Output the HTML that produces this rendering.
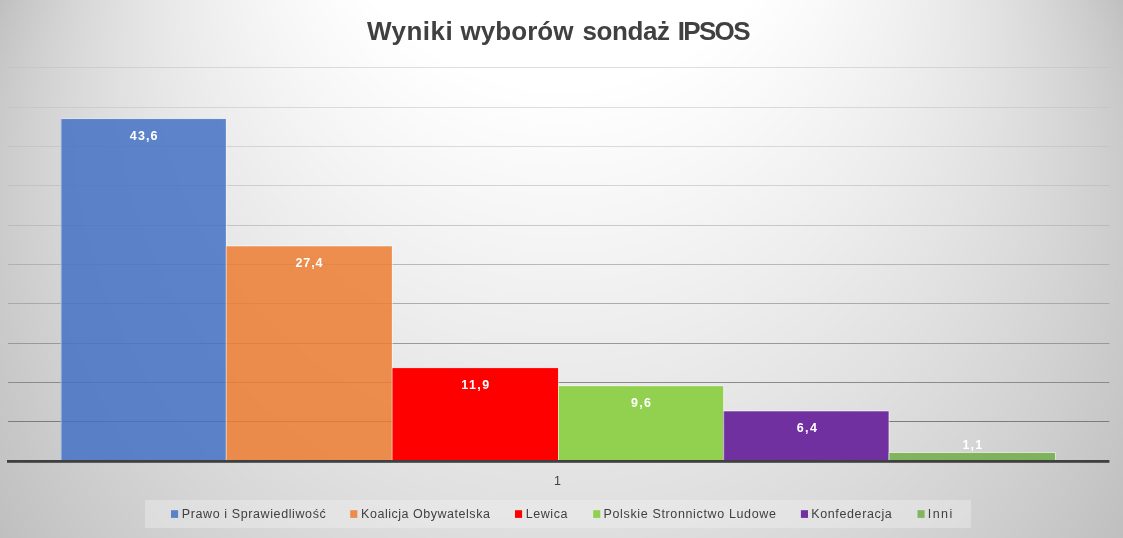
<!DOCTYPE html>
<html lang="pl">
<head>
<meta charset="utf-8">
<title>Wyniki wyborów sondaż IPSOS</title>
<style>
html,body{margin:0;padding:0;}
body{width:1123px;height:538px;overflow:hidden;position:relative;background:#bfbfbf;font-family:"Liberation Sans",sans-serif;}
div,#title span{position:absolute;white-space:nowrap;}
.tt{font-weight:bold;font-size:26px;line-height:32px;color:#404040;}
.lb{font-weight:bold;font-size:12.5px;line-height:16px;color:#fff;}
.lg{font-size:12.5px;line-height:16px;color:#404040;}
</style>
</head>
<body>
<svg width="1123" height="538" viewBox="0 0 1123 538" style="position:absolute;left:0;top:0">
<rect width="1123" height="538" fill="#bfbfbf"/>
<circle cx="561.5" cy="266.3" r="620.2" fill="#c0c0c0"/>
<circle cx="561.5" cy="260.8" r="615.3" fill="#c1c1c1"/>
<circle cx="561.5" cy="255.3" r="610.4" fill="#c2c2c2"/>
<circle cx="561.5" cy="249.8" r="605.5" fill="#c3c3c3"/>
<circle cx="561.5" cy="244.2" r="600.5" fill="#c4c4c4"/>
<circle cx="561.5" cy="238.6" r="595.5" fill="#c5c5c5"/>
<circle cx="561.5" cy="232.9" r="590.5" fill="#c6c6c6"/>
<circle cx="561.5" cy="227.2" r="585.4" fill="#c7c7c7"/>
<circle cx="561.5" cy="221.5" r="580.3" fill="#c8c8c8"/>
<circle cx="561.5" cy="215.7" r="575.2" fill="#c9c9c9"/>
<circle cx="561.5" cy="209.9" r="570.0" fill="#cacaca"/>
<circle cx="561.5" cy="204.1" r="564.8" fill="#cbcbcb"/>
<circle cx="561.5" cy="198.2" r="559.6" fill="#cccccc"/>
<circle cx="561.5" cy="192.3" r="554.3" fill="#cdcdcd"/>
<circle cx="561.5" cy="186.3" r="549.0" fill="#cecece"/>
<circle cx="561.5" cy="180.3" r="543.7" fill="#cfcfcf"/>
<circle cx="561.5" cy="174.3" r="538.3" fill="#d0d0d0"/>
<circle cx="561.5" cy="168.2" r="532.9" fill="#d1d1d1"/>
<circle cx="561.5" cy="162.1" r="527.4" fill="#d2d2d2"/>
<circle cx="561.5" cy="155.9" r="522.0" fill="#d3d3d3"/>
<circle cx="561.5" cy="149.7" r="516.5" fill="#d4d4d4"/>
<circle cx="561.5" cy="143.5" r="510.9" fill="#d5d5d5"/>
<circle cx="561.5" cy="137.3" r="505.3" fill="#d6d6d6"/>
<circle cx="561.5" cy="131.0" r="499.7" fill="#d7d7d7"/>
<circle cx="561.5" cy="124.6" r="494.1" fill="#d8d8d8"/>
<circle cx="561.5" cy="118.2" r="488.4" fill="#d9d9d9"/>
<circle cx="561.5" cy="111.8" r="482.7" fill="#dadada"/>
<circle cx="561.5" cy="105.4" r="476.9" fill="#dbdbdb"/>
<circle cx="561.5" cy="98.9" r="471.1" fill="#dcdcdc"/>
<circle cx="561.5" cy="92.3" r="465.3" fill="#dddddd"/>
<circle cx="561.5" cy="85.7" r="459.5" fill="#dedede"/>
<circle cx="561.5" cy="79.1" r="453.6" fill="#dfdfdf"/>
<circle cx="561.5" cy="72.5" r="447.7" fill="#e0e0e0"/>
<circle cx="561.5" cy="65.8" r="441.7" fill="#e1e1e1"/>
<circle cx="561.5" cy="59.0" r="435.7" fill="#e2e2e2"/>
<circle cx="561.5" cy="52.3" r="429.7" fill="#e3e3e3"/>
<circle cx="561.5" cy="45.5" r="423.6" fill="#e4e4e4"/>
<circle cx="561.5" cy="38.6" r="417.5" fill="#e5e5e5"/>
<circle cx="561.5" cy="31.7" r="411.4" fill="#e6e6e6"/>
<circle cx="561.5" cy="24.8" r="405.2" fill="#e7e7e7"/>
<circle cx="561.5" cy="17.8" r="399.0" fill="#e8e8e8"/>
<circle cx="561.5" cy="10.8" r="392.8" fill="#e9e9e9"/>
<circle cx="561.5" cy="3.7" r="386.5" fill="#eaeaea"/>
<circle cx="561.5" cy="-3.3" r="380.2" fill="#ebebeb"/>
<circle cx="561.5" cy="-10.5" r="373.8" fill="#ececec"/>
<circle cx="561.5" cy="-17.6" r="367.4" fill="#ededed"/>
<circle cx="561.5" cy="-24.9" r="361.0" fill="#eeeeee"/>
<circle cx="561.5" cy="-32.1" r="354.6" fill="#efefef"/>
<circle cx="561.5" cy="-39.4" r="348.1" fill="#f0f0f0"/>
<circle cx="561.5" cy="-46.7" r="341.5" fill="#f1f1f1"/>
<circle cx="561.5" cy="-54.1" r="335.0" fill="#f2f2f2"/>
<circle cx="561.5" cy="-61.5" r="328.4" fill="#f3f3f3"/>
<circle cx="561.5" cy="-69.0" r="321.7" fill="#f4f4f4"/>
<circle cx="561.5" cy="-76.5" r="315.1" fill="#f5f5f5"/>
<circle cx="561.5" cy="-84.0" r="308.4" fill="#f6f6f6"/>
<circle cx="561.5" cy="-91.6" r="301.6" fill="#f7f7f7"/>
<circle cx="561.5" cy="-99.2" r="294.8" fill="#f8f8f8"/>
<circle cx="561.5" cy="-106.9" r="288.0" fill="#f9f9f9"/>
<circle cx="561.5" cy="-114.6" r="281.2" fill="#fafafa"/>
<circle cx="561.5" cy="-122.3" r="274.3" fill="#fbfbfb"/>
<circle cx="561.5" cy="-130.1" r="267.3" fill="#fcfcfc"/>
<circle cx="561.5" cy="-137.9" r="260.4" fill="#fdfdfd"/>
<circle cx="561.5" cy="-145.8" r="253.4" fill="#fefefe"/>
<circle cx="561.5" cy="-153.7" r="246.3" fill="#ffffff"/>
<rect x="8" y="67.00" width="1101.4" height="1" fill="#bebebe" fill-opacity="0.50"/>
<rect x="8" y="107.00" width="1101.4" height="1" fill="#bdbdbd" fill-opacity="0.50"/>
<rect x="8" y="146.00" width="1101.4" height="1" fill="#bababa" fill-opacity="0.50"/>
<rect x="8" y="185.00" width="1101.4" height="1" fill="#b6b6b6" fill-opacity="0.55"/>
<rect x="8" y="225.00" width="1101.4" height="1" fill="#b0b0b0" fill-opacity="0.65"/>
<rect x="8" y="264.00" width="1101.4" height="1" fill="#aaaaaa" fill-opacity="0.80"/>
<rect x="8" y="303.00" width="1101.4" height="1" fill="#a6a6a6" fill-opacity="0.92"/>
<rect x="8" y="343.00" width="1101.4" height="1" fill="#999999"/>
<rect x="8" y="382.00" width="1101.4" height="1" fill="#8b8b8b"/>
<rect x="8" y="421.00" width="1101.4" height="1" fill="#7c7c7c"/>
<rect x="60.8" y="118.79" width="165.2" height="341.71" fill="rgba(68,114,196,.85)"/>
<path d="M61.1 460.5V118.59H226.3V460.5" fill="none" stroke="#fff" stroke-opacity=".5" stroke-width="1"/>
<rect x="226.0" y="246.09" width="166.0" height="214.41" fill="rgba(237,125,49,.85)"/>
<path d="M226.3 460.5V245.89H392.3V460.5" fill="none" stroke="#fff" stroke-opacity=".5" stroke-width="1"/>
<rect x="392.0" y="367.89" width="166.2" height="92.61" fill="#ff0000"/>
<path d="M392.3 460.5V367.69H558.5V460.5" fill="none" stroke="#fff" stroke-opacity=".5" stroke-width="1"/>
<rect x="558.2" y="385.96" width="165.2" height="74.54" fill="#92d050"/>
<path d="M558.5 460.5V385.76H723.7V460.5" fill="none" stroke="#fff" stroke-opacity=".5" stroke-width="1"/>
<rect x="723.4" y="411.11" width="165.4" height="49.39" fill="#7030a0"/>
<path d="M723.7 460.5V410.91H889.1V460.5" fill="none" stroke="#fff" stroke-opacity=".5" stroke-width="1"/>
<rect x="888.8" y="452.76" width="166.4" height="7.74" fill="rgba(112,173,71,.85)"/>
<path d="M889.1 460.5V452.56H1055.5V460.5" fill="none" stroke="#fff" stroke-opacity=".5" stroke-width="1"/>
<rect x="7" y="460" width="1102.4" height="2.8" fill="#404040"/>
<rect x="145" y="500" width="826" height="28" fill="#f2f2f2" fill-opacity=".39"/>
<rect x="171.0" y="510.2" width="7.1" height="7.7" fill="rgba(68,114,196,.85)"/>
<rect x="350.2" y="510.2" width="7.1" height="7.7" fill="rgba(237,125,49,.85)"/>
<rect x="515.0" y="510.2" width="7.1" height="7.7" fill="#ff0000"/>
<rect x="593.2" y="510.2" width="7.1" height="7.7" fill="#92d050"/>
<rect x="800.9" y="510.2" width="7.1" height="7.7" fill="#7030a0"/>
<rect x="917.5" y="510.2" width="7.1" height="7.7" fill="rgba(112,173,71,.85)"/>
</svg>
<div id="title" class="tt" style="left:0;top:0"><span id="t0" style="left:366.96px;top:15.00px;letter-spacing:0.469px">Wyniki</span> <span id="t1" style="left:460.57px;top:15.00px;letter-spacing:0.033px">wyborów</span> <span id="t2" style="left:582.47px;top:15.00px;letter-spacing:-0.404px">sondaż</span> <span id="t3" style="left:677.74px;top:15.00px;letter-spacing:-1.685px">IPSOS</span></div>
<div id="l0" class="lb" style="left:129.85px;top:128.39px;letter-spacing:1.125px;">43,6</div>
<div id="l1" class="lb" style="left:295.40px;top:254.76px;letter-spacing:0.945px;">27,4</div>
<div id="l2" class="lb" style="left:461.32px;top:376.98px;letter-spacing:1.376px;">11,9</div>
<div id="l3" class="lb" style="left:630.90px;top:394.92px;letter-spacing:1.327px;">9,6</div>
<div id="l4" class="lb" style="left:796.73px;top:420.39px;letter-spacing:1.412px;">6,4</div>
<div id="l5" class="lb" style="left:962.58px;top:437.36px;letter-spacing:1.086px;">1,1</div>
<div id="cat" class="lg" style="left:553.90px;top:473.41px;letter-spacing:0.000px;">1</div>
<div id="g0" class="lg" style="left:181.84px;top:505.60px;letter-spacing:0.601px;">Prawo i Sprawiedliwość</div>
<div id="g1" class="lg" style="left:361.12px;top:505.60px;letter-spacing:0.524px;">Koalicja Obywatelska</div>
<div id="g2" class="lg" style="left:525.63px;top:505.60px;letter-spacing:0.589px;">Lewica</div>
<div id="g3" class="lg" style="left:603.55px;top:505.60px;letter-spacing:0.639px;">Polskie Stronnictwo Ludowe</div>
<div id="g4" class="lg" style="left:811.29px;top:505.60px;letter-spacing:0.617px;">Konfederacja</div>
<div id="g5" class="lg" style="left:927.80px;top:505.60px;letter-spacing:1.409px;">Inni</div>
</body>
</html>
